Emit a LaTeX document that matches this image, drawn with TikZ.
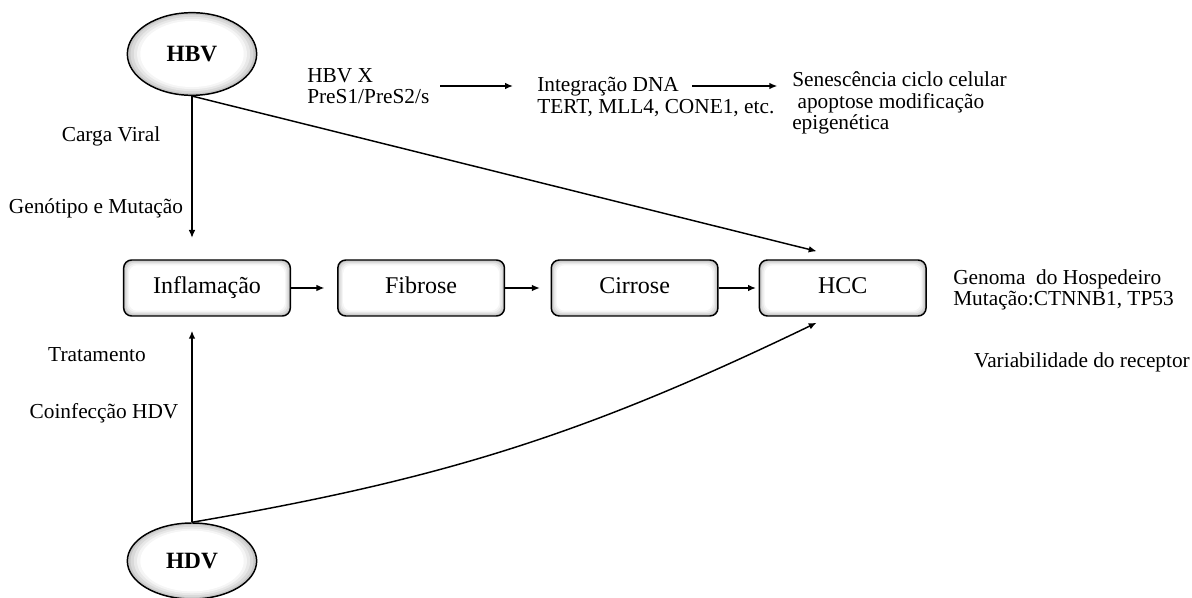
\documentclass[tikz,border=0pt]{standalone}
\usepackage{fontspec}
\setmainfont{Liberation Serif}
\usetikzlibrary{arrows.meta,calc,positioning,shapes.geometric}

\begin{document}
\begin{tikzpicture}[
  x=0.75pt, y=-0.75pt,
  font=\fontsize{16}{16}\selectfont,
  % soft grey rim inside the ellipses and boxes
  ovalglow/.style={path picture={
    \foreach \r/\g in {1/22,0.95/15,0.9/9,0.85/4,0.8/0}{
      \fill[black!\g] let \p1=($(path picture bounding box.north east)-(path picture bounding box.center)$) in
        (path picture bounding box.center) ellipse [x radius={\r*\x1}, y radius={\r*\y1}];}}},
  boxglow/.style={path picture={
    \foreach \d/\g in {0/24,1/16,2/9,3/4,4/0}{
      \fill[black!\g, rounded corners=6pt] ($(path picture bounding box.south west)+(\d pt,\d pt)$)
        rectangle ($(path picture bounding box.north east)-(\d pt,\d pt)$);}}},
  virus/.style={ellipse, draw=black, line width=1.1pt, ovalglow,
    minimum width=97pt, minimum height=62pt, font=\fontsize{17.5}{18}\selectfont\bfseries},
  stage/.style={draw=black, line width=1.1pt, rounded corners=6pt, boxglow,
    minimum width=125pt, minimum height=42pt, text height=12pt, text depth=4pt,
    font=\fontsize{18}{18}\selectfont},
  txt/.style={inner sep=0pt, align=left},
  flow/.style={-{Latex[length=6pt,width=5pt]}, line width=1.1pt}
]
\useasboundingbox (0,0) rectangle (1192,598);

\node[virus] (hbv) at (192,54) {HBV};
\node[virus, minimum height=57pt] (hdv) at (192,561) {HDV};

\node[stage] (infl) at (207,288) {Inflamação};
\node[stage, right=34.5pt of infl] (fib) {Fibrose};
\node[stage, right=34pt of fib] (cirr) {Cirrose};
\node[stage, right=30pt of cirr] (hcc) {HCC};

\node[txt, anchor=west] (vx) at (307,86) {HBV X\\PreS1/PreS2/s};
\node[txt, anchor=west] (integ) at (537,97) {Integração DNA\\TERT, MLL4, CONE1, etc.};
\node[txt, anchor=west] (sen) at (792,103) {Senescência ciclo celular\\\ apoptose modificação\\epigenética};

\node (carga) at (111,136) {Carga Viral};
\node (genot) at (96,208) {Genótipo e Mutação};
\node (trat) at (97,355) {Tratamento};
\node (coinf) at (104,413) {Coinfecção HDV};
\node[txt, anchor=west] (genoma) at (953,290) {Genoma\ \ do Hospedeiro\\Mutação:CTNNB1, TP53};
\node (varia) at (1082,362) {Variabilidade do receptor};

\coordinate (hcctop) at ($(hcc.north west)+(58,-8)$);
\coordinate (hccbot) at ($(hcc.south west)+(58,6)$);
\coordinate (dnaout) at ($(integ.west |- vx.east)+(155,0)$);

\draw[flow, shorten >=16pt] (hbv.south) -- (hbv.south |- infl.north);
\draw[flow, shorten >=10.5pt] (hdv.north) -- (hdv.north |- infl.south);
\draw[flow] (hbv.south) -- (hcctop);
\draw[flow] (hdv.north) to[bend right=8] (hccbot);

\draw[flow, shorten >=9.5pt] (infl) -- (fib);
\draw[flow, shorten >=8pt] (fib) -- (cirr);
\draw[flow, shorten >=2pt] (cirr) -- (hcc);

\draw[flow, shorten <=8pt, shorten >=18pt] (vx.east) -- (vx.east -| integ.west);
\draw[flow, shorten >=11pt] (dnaout) -- (vx.east -| sen.west);
\end{tikzpicture}
\end{document}
